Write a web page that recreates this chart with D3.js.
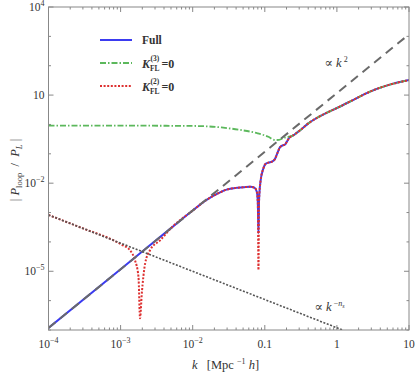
<!DOCTYPE html>
<meta charset="utf-8">
<style>
    body { margin: 0; background: #fff; }
    svg text { font-family: "Liberation Serif", "DejaVu Serif", serif; fill: #333; }
</style>
<script src="https://d3js.org/d3.v7.min.js"></script>
<div id="chart"></div>
<script>

    // values: k in Mpc^-1 h, |P_loop / P_L|
    var fullK = [1e-4, 1e-3, 5e-3, 1e-2, 1.58e-2, 2.24e-2, 2.95e-2, 3.98e-2, 5.01e-2, 6.31e-2, 7.24e-2, 7.76e-2,
        8.0e-2, 8.17e-2, 8.32e-2, 8.71e-2, 9.55e-2, 0.102, 0.112, 0.126, 0.138, 0.151, 0.162, 0.178, 0.19, 0.204,
        0.219, 0.24, 0.257, 0.282, 0.316, 0.398, 0.525, 0.708, 1, 1.7, 2.88, 5.01, 10];
    var fullP = [1.17e-7, 1.17e-5, 2.95e-4, 1.17e-3, 2.75e-3, 4.47e-3, 6.03e-3, 6.92e-3, 7.24e-3, 7.59e-3, 6.92e-3, 5.01e-3,
        2.24e-3, 2.0e-4, 2.5e-3, 1.12e-2, 3.16e-2, 4.47e-2, 5.0e-2, 5.4e-2, 6.6e-2, 0.112, 0.166, 0.195, 0.204, 0.269,
        0.355, 0.407, 0.447, 0.537, 0.661, 1.07, 1.66, 2.45, 3.63, 6.92, 13.2, 21.4, 32.4];

    var k3K = [1e-4, 1e-3, 1e-2, 2.5e-2, 4.57e-2, 7.94e-2, 0.112, 0.138, 0.158, 0.182, 0.24,
        0.257, 0.282, 0.316, 0.398, 0.525, 0.708, 1, 1.7, 2.88, 5.01, 10];
    var k3P = [0.91, 0.91, 0.89, 0.79, 0.65, 0.50, 0.38, 0.295, 0.30, 0.35, 0.407,
        0.447, 0.537, 0.661, 1.07, 1.66, 2.45, 3.63, 6.92, 13.2, 21.4, 32.4];

    var k2K = [1e-4, 3.16e-4, 7.94e-4, 1.05e-3, 1.35e-3, 1.58e-3, 1.77e-3, 1.86e-3, 1.97e-3, 2.19e-3, 2.56e-3, 3.55e-3,
        5e-3, 1e-2, 1.58e-2, 2.24e-2, 2.95e-2, 3.98e-2, 5.01e-2, 6.31e-2, 7.24e-2, 7.76e-2,
        8.0e-2, 8.17e-2, 8.32e-2, 8.71e-2, 9.55e-2, 0.102, 0.112, 0.126, 0.138, 0.151, 0.162, 0.178, 0.19, 0.204,
        0.219, 0.24, 0.257, 0.282, 0.316, 0.398, 0.525, 0.708, 1, 1.7, 2.88, 5.01, 10];
    var k2P = [8.3e-4, 2.75e-4, 1.14e-4, 7.9e-5, 5.2e-5, 2.4e-5, 6.5e-6, 2.5e-7, 1.8e-6, 1.86e-5, 5.2e-5, 1.15e-4,
        2.95e-4, 1.17e-3, 2.75e-3, 4.47e-3, 6.03e-3, 6.92e-3, 7.24e-3, 7.59e-3, 6.92e-3, 5.01e-3,
        2.24e-3, 1.1e-5, 2.5e-3, 1.12e-2, 3.16e-2, 4.47e-2, 5.0e-2, 5.4e-2, 6.6e-2, 0.112, 0.166, 0.195, 0.204, 0.269,
        0.355, 0.407, 0.447, 0.537, 0.661, 1.07, 1.66, 2.45, 3.63, 6.92, 13.2, 21.4, 32.4];

    // guide power laws: end points
    var k2LawK = [1e-4, 10];
    var k2LawP = [1.17e-7, 1.17e3];
    var nsLawK = [1e-4, 1.2];
    var nsLawP = [8.3e-4, 1e-7];

    var xTicks = [1e-4, 1e-3, 1e-2, 0.1, 1, 10];
    var xTickBase = ["10", "10", "10", "0.1", "1", "10"];
    var xTickExp = ["\u22124", "\u22123", "\u22122", "", "", ""];
    var yTicks = [1e4, 10, 1e-2, 1e-5];
    var yTickBase = ["10", "10", "10", "10"];
    var yTickExp = ["4", "", "\u22122", "\u22125"];

    var margin = {top: 7, right: 6, bottom: 44, left: 48.5},
        width = 415 - margin.left - margin.right,
        height = 374 - margin.top - margin.bottom;

    var svg = d3.select("#chart").append("svg")
        .attr("width", 415)
        .attr("height", 374)
        .append("g")
        .attr("transform", "translate(" + margin.left + "," + margin.top + ")");

    var x = d3.scaleLog().domain([1e-4, 10]).range([0, width]);
    var y = d3.scaleLog().domain([1e-7, 1e4]).range([height, 0]);

    // ticks
    var xMinor = x.ticks().filter(function(d) { return xTicks.indexOf(d) < 0; });
    var yMinor = d3.range(-7, 5).map(function(e) { return Math.pow(10, e); })
        .filter(function(d) { return !yTicks.some(function(t) { return Math.abs(Math.log10(t) - Math.log10(d)) < 1e-6; }); });

    var tickColor = "#888";
    function vt(vals, len, atY, dir) {
        svg.selectAll(null).data(vals).enter().append("line")
            .attr("x1", function(d) { return x(d); }).attr("x2", function(d) { return x(d); })
            .attr("y1", atY).attr("y2", atY + dir * len)
            .attr("stroke", tickColor).attr("stroke-width", 1);
    }
    function ht(vals, len, atX, dir) {
        svg.selectAll(null).data(vals).enter().append("line")
            .attr("y1", function(d) { return y(d); }).attr("y2", function(d) { return y(d); })
            .attr("x1", atX).attr("x2", atX + dir * len)
            .attr("stroke", tickColor).attr("stroke-width", 1);
    }
    vt(xTicks, 5, height, -1); vt(xMinor, 2.5, height, -1);
    vt(xTicks, 5, 0, 1); vt(xMinor, 2.5, 0, 1);
    ht(yTicks, 5, 0, 1); ht(yMinor, 2.5, 0, 1);
    ht(yTicks, 5, width, -1); ht(yMinor, 2.5, width, -1);

    // curves
    var plot = svg.append("g").attr("clip-path", "url(#clip)");
    svg.append("clipPath").attr("id", "clip").append("rect")
        .attr("width", width).attr("height", height);

    function draw(ks, ps, color, w, dash) {
        var pts = ks.map(function(k, i) { return [k, ps[i]]; });
        plot.append("path")
            .datum(pts)
            .attr("fill", "none")
            .attr("stroke", color)
            .attr("stroke-width", w)
            .attr("stroke-dasharray", dash)
            .attr("d", d3.line()
                .curve(d3.curveMonotoneX)
                .x(function(d) { return x(d[0]); })
                .y(function(d) { return y(d[1]); }));
    }

    draw(fullK, fullP, "#3b3bf0", 2, null);
    draw(k3K, k3P, "#5cb85c", 1.8, "6,2,1.5,2");
    draw(k2K, k2P, "#dd3030", 2, "2,1.6");
    draw(k2LawK, k2LawP, "#6a6a6a", 2, "9,6");
    draw(nsLawK, nsLawP, "#555", 1.6, "2,1.6");

    // frame
    svg.append("rect")
        .attr("width", width).attr("height", height)
        .attr("fill", "none").attr("stroke", "#888").attr("stroke-width", 1);

    // tick labels
    var xl = svg.selectAll(null).data(xTicks).enter().append("text")
        .attr("x", function(d) { return x(d); })
        .attr("y", height + 18)
        .attr("text-anchor", "middle")
        .style("font-size", "11.5px");
    xl.append("tspan").text(function(d, i) { return xTickBase[i]; });
    xl.append("tspan").attr("dy", -5).style("font-size", "8px").text(function(d, i) { return xTickExp[i]; });

    var yl = svg.selectAll(null).data(yTicks).enter().append("text")
        .attr("x", -4)
        .attr("y", function(d) { return y(d) + 4; })
        .attr("text-anchor", "end")
        .style("font-size", "11.5px");
    yl.append("tspan").text(function(d, i) { return yTickBase[i]; });
    yl.append("tspan").attr("dy", -5).style("font-size", "8px").text(function(d, i) { return yTickExp[i]; });

    // axis titles
    var xt = svg.append("text")
        .attr("x", 177).attr("y", height + 39)
        .attr("text-anchor", "middle")
        .style("font-size", "12.5px");
    xt.append("tspan").style("font-style", "italic").text("k");
    xt.append("tspan").attr("xml:space", "preserve").text("   [Mpc ");
    xt.append("tspan").attr("dy", -5).style("font-size", "8px").text("\u22121");
    xt.append("tspan").attr("dy", 5).text(" ");
    xt.append("tspan").style("font-style", "italic").text("h");
    xt.append("tspan").text("]");

    var yt = svg.append("text")
        .attr("transform", "translate(-30," + (163) + ") rotate(-90)")
        .attr("text-anchor", "middle")
        .style("font-size", "12.5px");
    yt.append("tspan").attr("xml:space", "preserve").text("| ");
    yt.append("tspan").style("font-style", "italic").text("P");
    yt.append("tspan").attr("dy", 3).style("font-size", "8.5px").text("loop");
    yt.append("tspan").attr("dy", -3).attr("xml:space", "preserve").text("  /  ");
    yt.append("tspan").style("font-style", "italic").text("P");
    yt.append("tspan").attr("dy", 3).style("font-size", "8.5px").style("font-style", "italic").text("L");
    yt.append("tspan").attr("dy", -3).attr("xml:space", "preserve").text(" |");

    // power law notes
    var a1 = svg.append("text").attr("x", 276).attr("y", 60).style("font-size", "12.5px");
    a1.append("tspan").text("\u221d ");
    a1.append("tspan").style("font-style", "italic").text("k");
    a1.append("tspan").attr("dy", -5).style("font-size", "8px").text(" 2");

    var a2 = svg.append("text").attr("x", 266).attr("y", 304).style("font-size", "12.5px");
    a2.append("tspan").text("\u221d ");
    a2.append("tspan").style("font-style", "italic").text("k");
    a2.append("tspan").attr("dy", -5).style("font-size", "8px").text(" \u2212");
    a2.append("tspan").style("font-size", "8px").style("font-style", "italic").text("n");
    a2.append("tspan").attr("dy", 2).style("font-size", "6px").style("font-style", "italic").text("s");

    // legend
    var legend = [
        {color: "#3b3bf0", dash: null, w: 2, sup: null},
        {color: "#5cb85c", dash: "6,2,1.5,2", w: 1.8, sup: "(3)"},
        {color: "#dd3030", dash: "2,1.6", w: 2, sup: "(2)"}
    ];
    var lg = svg.selectAll(null).data(legend).enter().append("g")
        .attr("transform", function(d, i) { return "translate(51.5," + (33 + i * 23) + ")"; });
    lg.append("line").attr("x1", 0).attr("x2", 32)
        .attr("stroke", function(d) { return d.color; })
        .attr("stroke-width", function(d) { return d.w; })
        .attr("stroke-dasharray", function(d) { return d.dash; });
    lg.each(function(d) {
        var g = d3.select(this);
        function t(xx, yy, size) {
            return g.append("text").attr("x", xx).attr("y", yy)
                .style("font-size", size).style("font-weight", "bold");
        }
        if (!d.sup) { t(42, 4, "11.5px").text("Full"); return; }
        t(42, 5, "12px").style("font-style", "italic").text("K");
        t(50.5, -2.5, "7.5px").text(d.sup);
        t(50, 7.5, "7.5px").text("FL");
        t(61.5, 5, "12px").text("=0");
    });

</script>
